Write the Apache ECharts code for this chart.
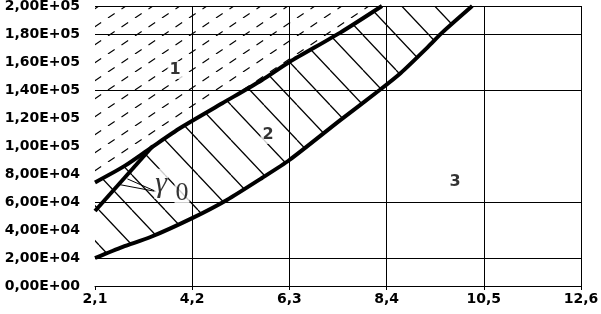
<!DOCTYPE html>
<html><head><meta charset="utf-8">
<script src="https://cdn.jsdelivr.net/npm/echarts@6/dist/echarts.min.js"></script>
<style>html,body{margin:0;padding:0;background:#fff}#c{width:601px;height:314px}</style>
</head><body><div id="c"></div>
<script>
// ---- data ----
const xTickLabels = ['2,1', '4,2', '6,3', '8,4', '10,5', '12,6'];
const yTickLabels = ['0,00E+00', '2,00E+04', '4,00E+04', '6,00E+04', '8,00E+04', '1,00E+05',
                     '1,20E+05', '1,40E+05', '1,60E+05', '1,80E+05', '2,00E+05'];
const gridYValues = [20000, 60000, 140000, 180000, 200000];

// upper boundary curve (between regions 1 and 2)
const upperX = [2.1, 2.75, 3.3, 3.95, 4.85, 5.7, 6.3, 7.4, 8.3];
const upperY = [74000, 86000, 98500, 113000, 130500, 147000, 160000, 181000, 200000];
// lower boundary curve (between regions 2 and 3)
const lowerX = [2.1, 2.7, 3.3, 4.2, 4.95, 5.7, 6.3, 7.4, 8.25, 8.7, 9.3, 9.6, 10.25];
const lowerY = [20000, 28000, 35000, 48500, 61500, 77000, 90000, 118500, 140000, 152000, 171000, 181000, 200000];
// thick arrow line
const arrowX = [2.1, 3.35];
const arrowY = [53600, 100000];
// thin pointer lines from the gamma label
const pointerX = [2.62, 3.42, 2.8];
const pointerY = [72500, 67500, 76500];
// text labels
const labelX = [3.83, 5.84, 9.88, 3.53, 3.98];
const labelY = [154300, 107900, 74300, 73000, 66500];
const labelText = ['1', '2', '3', 'γ', '0'];

// ---- presentation ----
function hatchTile(w, h, rising, dash, lw) {
  const c = document.createElement('canvas');
  c.width = w; c.height = h;
  const g = c.getContext('2d');
  g.strokeStyle = '#000';
  g.lineWidth = lw;
  if (dash) g.setLineDash(dash);
  for (const dx of [-w, 0, w]) {
    g.beginPath();
    if (rising) { g.moveTo(dx, h); g.lineTo(dx + w, 0); }
    else { g.moveTo(dx, 0); g.lineTo(dx + w, h); }
    g.stroke();
  }
  return c;
}
const dashLen = Math.sqrt(27 * 27 + 18 * 18) / 2;
const dashPattern = { image: hatchTile(27, 18, true, [8, dashLen - 8], 1.1), repeat: 'repeat' };
const solidPattern = { image: hatchTile(33, 35, false, null, 1.3), repeat: 'repeat' };

const sansBold = { fontFamily: 'DejaVu Sans', fontWeight: 'bold', color: '#000' };
const plain = { textBorderWidth: 0, textShadowBlur: 0 };
const labelStyles = [
  Object.assign({ fontSize: 16, backgroundColor: '#fff', padding: [1, 2] }, sansBold, plain),
  Object.assign({ fontSize: 16, backgroundColor: '#fff', padding: [1, 2] }, sansBold, plain),
  Object.assign({ fontSize: 16, backgroundColor: '#fff', padding: [1, 2] }, sansBold, plain),
  Object.assign({ fontFamily: 'Liberation Serif', fontStyle: 'italic', fontSize: 30, color: '#000', backgroundColor: '#fff', padding: [0, 1] }, plain),
  Object.assign({ fontFamily: 'Liberation Serif', fontSize: 26, color: '#000', backgroundColor: '#fff', padding: [0, 1] }, plain)
];

const pairs = (xs, ys) => xs.map((x, i) => [x, ys[i]]);

const chart = echarts.init(document.getElementById('c'), null, { renderer: 'canvas' });
chart.setOption({
  animation: false,
  backgroundColor: '#fff',
  grid: { left: 95, right: 20, top: 6, bottom: 28, outerBoundsMode: 'none', containLabel: false },
  xAxis: {
    type: 'value', min: 2.1, max: 12.6, interval: 2.1,
    axisLine: { show: true, lineStyle: { color: '#000', width: 1 } },
    axisTick: { show: true, length: 4, lineStyle: { color: '#000' } },
    splitLine: { show: true, showMinLine: false, lineStyle: { color: '#000', width: 1 } },
    axisLabel: Object.assign({ fontSize: 14, margin: 6,
      formatter: v => xTickLabels[Math.round((v - 2.1) / 2.1)] }, sansBold)
  },
  yAxis: {
    type: 'value', min: 0, max: 200000, interval: 20000,
    axisLine: { show: false }, axisTick: { show: false },
    splitLine: { show: false },
    axisLabel: Object.assign({ fontSize: 14, margin: 15,
      formatter: v => yTickLabels[Math.round(v / 20000)] }, sansBold)
  },
  series: [
    {
      type: 'custom', z: 1, silent: true,
      data: [[2.1, 0]],
      renderItem: (params, api) => {
        const up = upperX.map((x, i) => api.coord([x, upperY[i]]));
        const lo = lowerX.map((x, i) => api.coord([x, lowerY[i]]));
        const region1 = up.concat([api.coord([upperX[0], 200000])]);
        const region2 = lo.concat(up.slice().reverse());
        return {
          type: 'group',
          children: [
            { type: 'polygon', shape: { points: region1 }, style: { fill: dashPattern, stroke: null } },
            { type: 'polygon', shape: { points: region2 }, style: { fill: solidPattern, stroke: null } }
          ]
        };
      },
      markLine: {
        silent: true, symbol: 'none', label: { show: false },
        lineStyle: { color: '#000', width: 1, type: 'solid' },
        data: gridYValues.map(v => ({ yAxis: v }))
      }
    },
    { type: 'line', z: 3, data: pairs(upperX, upperY), smooth: 0.25, showSymbol: false,
      lineStyle: { color: '#000', width: 4 } },
    { type: 'line', z: 3, data: pairs(lowerX, lowerY), smooth: 0.25, showSymbol: false,
      lineStyle: { color: '#000', width: 4 } },
    { type: 'line', z: 3, data: pairs(arrowX, arrowY), showSymbol: false,
      lineStyle: { color: '#000', width: 4 } },
    { type: 'line', z: 3, data: pairs(pointerX, pointerY), showSymbol: false,
      lineStyle: { color: '#000', width: 1 } },
    { type: 'scatter', z: 6, symbolSize: 0, silent: true,
      data: labelX.map((x, i) => ({ value: [x, labelY[i]],
        label: Object.assign({ show: true, position: 'inside', formatter: labelText[i] }, labelStyles[i]) })) }
  ]
});
</script>
</body></html>
